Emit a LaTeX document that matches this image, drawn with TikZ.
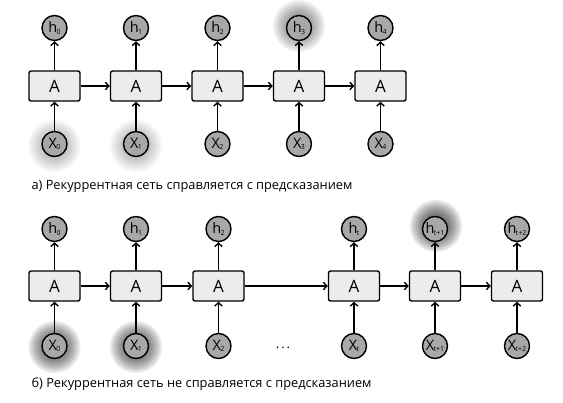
\documentclass[tikz,border=0pt]{standalone}
\usepackage{fontspec}
\setmainfont{Open Sans}
\usetikzlibrary{arrows.meta}
\definecolor{cellgray}{RGB}{236,236,236}
\definecolor{unitgray}{RGB}{168,168,168}
\newcommand{\lbl}[2]{#1\kern-0.5pt\raisebox{-1.5pt}{\fontsize{7}{7}\selectfont #2}}
% soft glow: stacked translucent discs
\newcommand{\glow}[3]{%
  \foreach \r in {8,10,...,26}
    \fill[black,opacity=#3] (#1,#2) circle (\r pt);}

\begin{document}
\begin{tikzpicture}[x=1pt,y=-1pt,
    cell/.style={draw,line width=1.4pt,fill=cellgray,rounded corners=2pt,
      minimum width=51pt,minimum height=30pt,inner sep=0pt,
      font=\fontsize{17}{17}\selectfont},
    unit/.style={circle,draw,line width=1.4pt,fill=unitgray,minimum size=25pt,
      inner sep=0pt,font=\fontsize{14.5}{14.5}\selectfont},
    flow/.style={line width=1.4pt,-{Straight Barb[length=3.5pt,width=7.5pt]}},
    caption/.style={anchor=base west,font=\fontsize{12.8}{13}\selectfont}]
  \useasboundingbox (0,0) rectangle (563,403);
  % glows behind the highlighted circles
  \glow{54.5}{146}{0.035}
  \glow{136}{146}{0.035}
  \glow{299}{26}{0.06}
  \glow{54.5}{347}{0.085}
  \glow{136}{347}{0.085}
  \glow{436}{226}{0.09}
  % a) top row
  \foreach \i/\x in {0/54.5,1/136,2/217.5,3/299,4/380.5} {
    \node[cell] (a\i) at (\x,86) {A};
    \node[unit] (h\i) at (\x,28) {\lbl{h}{\i}};
    \node[unit] (x\i) at (\x,144) {\lbl{X}{\i}};
    \draw[flow] (x\i) -- (a\i);
    \draw[flow] (a\i) -- (h\i);
  }
  \foreach \i/\j in {0/1,1/2,2/3,3/4}
    \draw[flow] (a\i) -- (a\j);
  \node[caption] (capa) at (28,190) {а) Рекуррентная сеть справляется с предсказанием};
  % b) bottom row
  \foreach \i/\x/\t in {0/54.5/0,1/136/1,2/218.5/2,3/354/t,4/435/t+1,5/517/t+2} {
    \node[cell] (b\i) at (\x,286) {A};
    \node[unit] (g\i) at (\x,229) {\lbl{h}{\t}};
    \node[unit] (y\i) at (\x,346) {\lbl{X}{\t}};
    \draw[flow] (y\i) -- (b\i);
    \draw[flow] (b\i) -- (g\i);
  }
  \foreach \i/\j in {0/1,1/2,2/3,3/4,4/5}
    \draw[flow] (b\i) -- (b\j);
  \node[font=\fontsize{13}{13}\selectfont] (dots) at (283,348) {.\hspace{2pt}.\hspace{2pt}.};
  \node[caption] (capb) at (28,388) {б) Рекуррентная сеть не справляется с предсказанием};
\end{tikzpicture}
\end{document}
